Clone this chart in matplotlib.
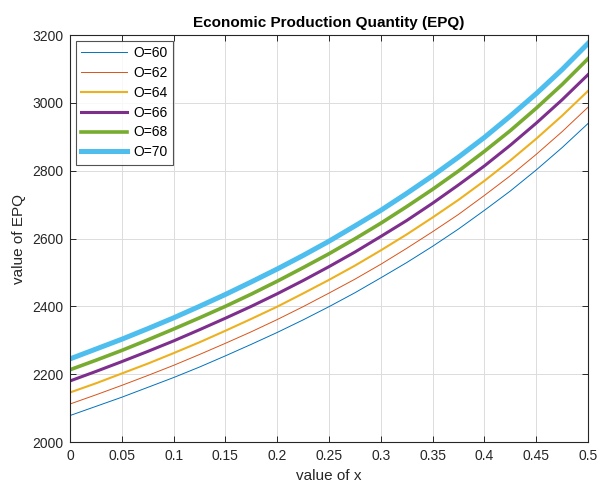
import matplotlib
matplotlib.use("Agg")
import matplotlib.pyplot as plt

plt.rcParams['font.family'] = ['Liberation Sans', 'DejaVu Sans']

x = [0.0, 0.025, 0.05, 0.075, 0.1, 0.125, 0.15, 0.175, 0.2, 0.225, 0.25,
     0.275, 0.3, 0.325, 0.35, 0.375, 0.4, 0.425, 0.45, 0.475, 0.5]

epq_60 = [2078, 2105, 2132, 2161, 2190, 2221, 2254, 2288, 2323, 2360, 2399,
          2440, 2484, 2529, 2577, 2628, 2683, 2740, 2802, 2868, 2939]
epq_62 = [2112, 2139, 2167, 2196, 2226, 2258, 2291, 2325, 2361, 2399, 2439,
          2480, 2524, 2571, 2620, 2671, 2727, 2785, 2848, 2915, 2987]
epq_64 = [2146, 2173, 2202, 2231, 2262, 2294, 2328, 2363, 2399, 2438, 2478,
          2520, 2565, 2612, 2662, 2714, 2770, 2830, 2894, 2962, 3035]
epq_66 = [2180, 2208, 2237, 2267, 2298, 2331, 2365, 2400, 2437, 2476, 2517,
          2560, 2606, 2653, 2704, 2758, 2814, 2875, 2940, 3009, 3083]
epq_68 = [2213, 2241, 2270, 2301, 2333, 2366, 2400, 2436, 2474, 2514, 2555,
          2599, 2645, 2694, 2745, 2799, 2857, 2918, 2984, 3054, 3130]
epq_70 = [2245, 2274, 2303, 2334, 2366, 2400, 2435, 2472, 2510, 2550, 2592,
          2637, 2683, 2733, 2785, 2840, 2898, 2961, 3027, 3098, 3175]

labels = ['O=60', 'O=62', 'O=64', 'O=66', 'O=68', 'O=70']
series = [epq_60, epq_62, epq_64, epq_66, epq_68, epq_70]
colors = ['#0072BD', '#D95319', '#EDB120', '#7E2F8E', '#77AC30', '#4DBEEE']
widths = [0.7, 0.7, 1.5, 2.2, 2.6, 3.6]

xticks = [0, 0.05, 0.1, 0.15, 0.2, 0.25, 0.3, 0.35, 0.4, 0.45, 0.5]
xticklabels = ['0', '0.05', '0.1', '0.15', '0.2', '0.25', '0.3', '0.35', '0.4', '0.45', '0.5']
yticks = [2000, 2200, 2400, 2600, 2800, 3000, 3200]

fig = plt.figure(figsize=(6.01, 4.94), dpi=100)
ax = fig.add_axes([70/601, 1 - 442/494, (588-70)/601, (442-35)/494])

for ys, lab, c, w in zip(series, labels, colors, widths):
    ax.plot(x, ys, color=c, linewidth=w, label=lab)

ax.set_xlim(0, 0.5)
ax.set_ylim(2000, 3200)
ax.set_xticks(xticks)
ax.set_xticklabels(xticklabels)
ax.set_yticks(yticks)
ax.grid(True, color='#dcdcdc', linewidth=0.7)
ax.set_axisbelow(True)
ax.tick_params(direction='in', length=4, width=0.7, labelsize=10, colors='#262626',
               top=True, right=True, pad=5)
for s in ax.spines.values():
    s.set_color('#262626')
    s.set_linewidth(0.8)

ax.set_title('Economic Production Quantity (EPQ)', fontsize=11, fontweight='bold',
             color='black', pad=6)
ax.set_xlabel('value of x', fontsize=11, color='#262626', labelpad=4)
ax.set_ylabel('value of EPQ', fontsize=11, color='#262626', labelpad=4)

leg = ax.legend(loc='upper left', fontsize=10, frameon=True, fancybox=False,
                edgecolor='#262626', handlelength=3.3, handletextpad=0.45,
                borderaxespad=0.4, labelspacing=0.42, borderpad=0.4)
leg.get_frame().set_linewidth(0.8)

fig.savefig('out.png', dpi=100)
